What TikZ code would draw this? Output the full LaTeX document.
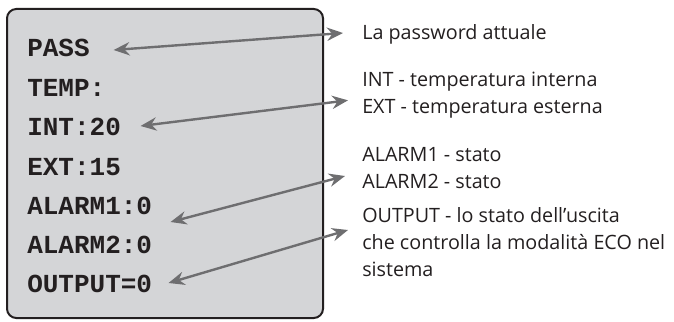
\documentclass[tikz,border=0pt]{standalone}
\usepackage{fontspec}
\setmainfont{Open Sans}
\setmonofont{Liberation Mono}
\usetikzlibrary{arrows.meta}
\definecolor{panelgray}{RGB}{212,213,215}
\definecolor{arrowgray}{RGB}{110,110,112}
\definecolor{textgray}{RGB}{35,31,32}
\tikzset{
  lcd/.style={anchor=west,inner sep=0.75pt,font=\ttfamily\bfseries\fontsize{19.5}{20}\selectfont,text=textgray},
  note/.style={anchor=west,inner sep=0.75pt,font=\fontsize{14.8}{20.5}\selectfont,text=textgray,align=left},
  dblarrow/.style={{Stealth[length=12pt,width=10pt,inset=4pt]}-{Stealth[length=12pt,width=10pt,inset=4pt]},color=arrowgray,line width=1.8pt}
}
\begin{document}
\begin{tikzpicture}[x=0.75pt,y=0.75pt,yscale=-1,xscale=1]
\useasboundingbox (0,0) rectangle (674,321);

%Shape: display panel
\draw [color=textgray,fill=panelgray,line width=1.5pt,rounded corners=7pt] (7,9) rectangle (323,318);

% Text Node
\node [lcd] (pass) at (26,48) {PASS};
\node [lcd] (temp) at (26,88) {TEMP:};
\node [lcd] (int) at (26,127) {INT:20};
\node [lcd] (ext) at (26,167) {EXT:15};
\node [lcd] (alarma) at (26,206) {ALARM1:0};
\node [lcd] (alarmb) at (26,245) {ALARM2:0};
\node [lcd] (output) at (26,284) {OUTPUT=0};

% Text Node
\node [note] (lblpass) at (361,34) {La password attuale};
\node [note] (lbltemp) at (361,95) {INT - temperatura interna\\EXT - temperatura esterna};
\node [note] (lblalarm) at (361,168) {ALARM1 - stato\\ALARM2 - stato};
\node [note] (lblout) at (361,242) {OUTPUT - lo stato dell'uscita\\che controlla la modalità ECO nel\\sistema};

%Straight Lines
\draw [dblarrow] ([xshift=17pt,yshift=1.5pt]pass.east) -- ([xshift=-13.5pt,yshift=-0.75pt]lblpass.west);
\draw [dblarrow] ([xshift=13.8pt,yshift=-0.75pt]int.east) -- ([xshift=-9.75pt,yshift=4pt]lbltemp.west);
\draw [dblarrow] ([xshift=12.9pt,yshift=12pt]alarma.east) -- ([xshift=-12pt,yshift=6pt]lblalarm.west);
\draw [dblarrow] ([xshift=11.4pt,yshift=-0.75pt]output.east) -- ([xshift=-9.75pt,yshift=-9pt]lblout.west);

\end{tikzpicture}
\end{document}
